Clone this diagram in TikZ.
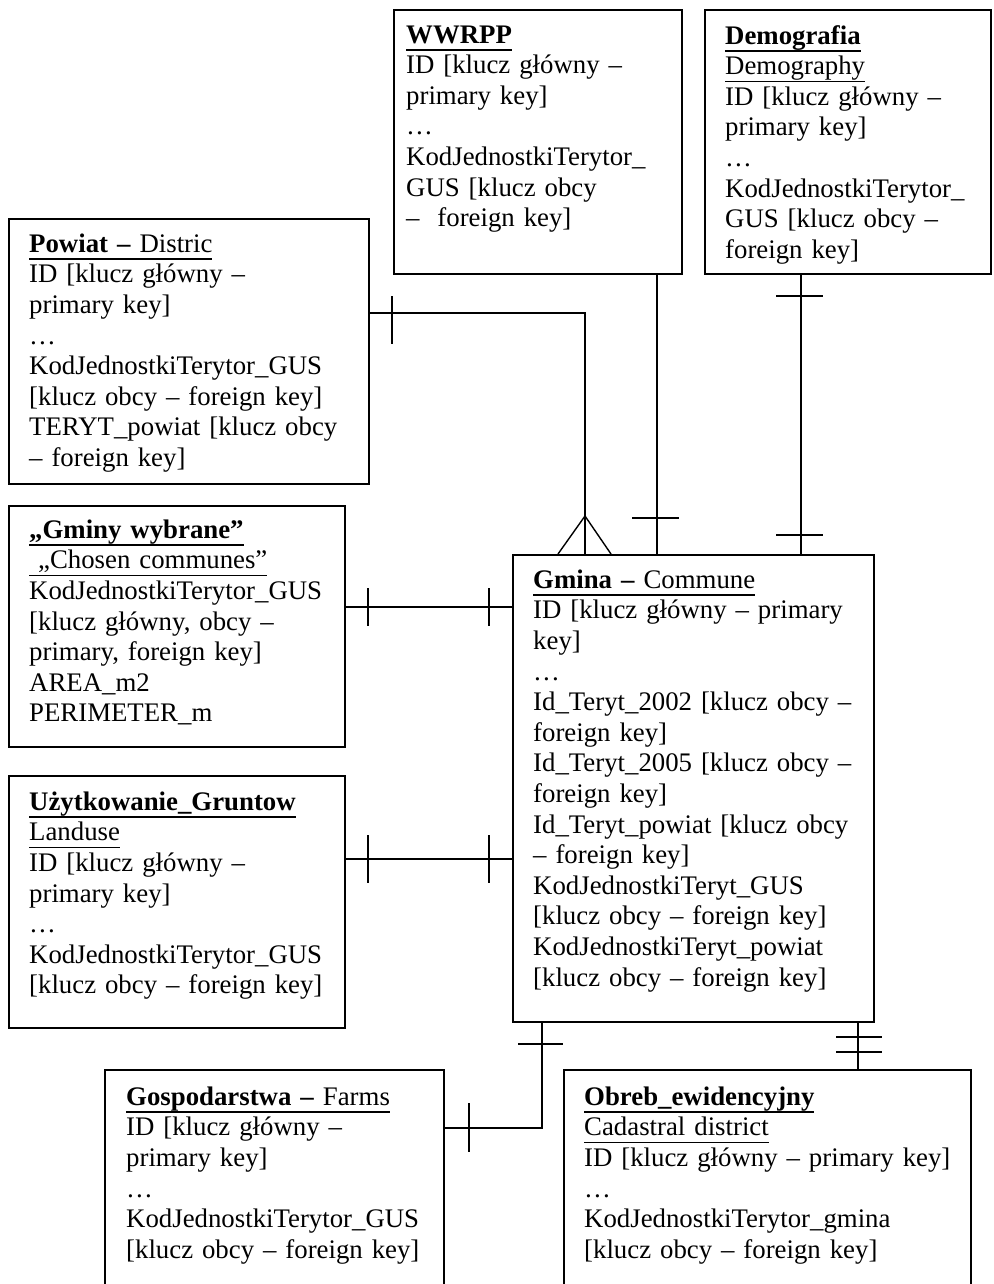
\documentclass[tikz,border=0pt]{standalone}
\usepackage{fontspec}
\setmainfont{Liberation Serif}
\setlength{\parindent}{0pt}
\newsavebox{\ulbox}
\newcommand{\ulin}[1]{\leavevmode\sbox{\ulbox}{#1}\rlap{\rule[-7.5pt]{\wd\ulbox}{1.5pt}}\usebox{\ulbox}}
\newcommand{\bodyfont}{\fontsize{26.8}{30.6}\selectfont}
\newcommand{\fl}{\rule{0pt}{24pt}}
\newcommand{\jline}[1]{\makebox[\hsize][s]{#1}}
\tikzset{
  box/.style={draw, line width=1.6pt, inner sep=0pt, anchor=north west},
  txt/.style={anchor=north west, inner sep=0pt, text width=#1, align=left, font=\bodyfont},
  lnk/.style={line width=1.4pt},
}
\begin{document}
\begin{tikzpicture}[x=1pt,y=-1pt]
\clip (0,0) rectangle (993,1284);
\fill[white] (0,0) rectangle (993,1284);

% boxes
\node[box, minimum width=288pt, minimum height=264pt] (wwrpp) at (393,9) {};
\node[box, minimum width=286pt, minimum height=264pt] (demo) at (704,9) {};
\node[box, minimum width=360pt, minimum height=265pt] (powiat) at (8,218) {};
\node[box, minimum width=336pt, minimum height=241pt] (gminy) at (8,505) {};
\node[box, minimum width=336pt, minimum height=252pt] (uzyt) at (8,775) {};
\node[box, minimum width=361pt, minimum height=467pt] (gmina) at (512,554) {};
\node[box, minimum width=339pt, minimum height=240pt] (gosp) at (104,1069) {};
\node[box, minimum width=407pt, minimum height=240pt] (obreb) at (563,1069) {};

% texts
\node[txt=274pt] (wwrppT) at (406,19) {\fl\ulin{\textbf{WWRPP}}\\
ID [klucz główny –\\
primary key]\\
…\\
KodJednostkiTerytor\_\\
GUS [klucz obcy\\
– \ foreign key]};

\node[txt=262pt] (demoT) at (725,20) {\fl\ulin{\textbf{Demografia}}\\
\ulin{Demography}\\
ID [klucz główny –\\
primary key]\\
…\\
KodJednostkiTerytor\_\\
GUS [klucz obcy –\\
foreign key]};

\node[txt=320pt] (powiatT) at (29,228) {\fl\ulin{\textbf{Powiat –} Distric}\\
ID [klucz główny –\\
primary key]\\
…\\
KodJednostkiTerytor\_GUS\\
{[}klucz obcy – foreign key]\\
\jline{TERYT\_powiat [klucz obcy}\\
– foreign key]};

\node[txt=312pt] (gminyT) at (29,514) {\fl\ulin{\textbf{„Gminy wybrane”}}\\
\ulin{\ „Chosen communes”}\\
KodJednostkiTerytor\_GUS\\
{[}klucz główny, obcy –\\
primary, foreign key]\\
AREA\_m2\\
PERIMETER\_m};

\node[txt=312pt] (uzytT) at (29,786) {\fl\ulin{\textbf{Użytkowanie\_Gruntow}}\\
\ulin{Landuse}\\
ID [klucz główny –\\
primary key]\\
…\\
KodJednostkiTerytor\_GUS\\
{[}klucz obcy – foreign key]};

\node[txt=319pt] (gminaT) at (533,564) {\fl\ulin{\textbf{Gmina –} Commune}\\
\jline{ID [klucz główny – primary}\\
key]\\
…\\
\jline{Id\_Teryt\_2002 [klucz obcy –}\\
foreign key]\\
\jline{Id\_Teryt\_2005 [klucz obcy –}\\
foreign key]\\
\jline{Id\_Teryt\_powiat [klucz obcy}\\
– foreign key]\\
KodJednostkiTeryt\_GUS\\
{[}klucz obcy – foreign key]\\
KodJednostkiTeryt\_powiat\\
{[}klucz obcy – foreign key]};

\node[txt=312pt] (gospT) at (126,1081) {\fl\ulin{\textbf{Gospodarstwa –} Farms}\\
ID [klucz główny –\\
primary key]\\
…\\
KodJednostkiTerytor\_GUS\\
{[}klucz obcy – foreign key]};

\node[txt=380pt] (obrebT) at (584,1081) {\fl\ulin{\textbf{Obreb\_ewidencyjny}}\\
\ulin{Cadastral district}\\
ID [klucz główny – primary key]\\
…\\
KodJednostkiTerytor\_gmina\\
{[}klucz obcy – foreign key]};

% helper coordinates
\coordinate (pgX) at (585,0); \coordinate (pgY) at (0,313);
\coordinate (wwX) at (657,0);
\coordinate (dmX) at (801,0);
\coordinate (gwY) at (0,607);
\coordinate (ugY) at (0,859);
\coordinate (gsX) at (542,0); \coordinate (gsY) at (0,1128);
\coordinate (obX) at (858,0);

% Powiat - Gmina
\draw[lnk] (powiat.east |- pgY) -| (gmina.north -| pgX);
\draw[lnk] (392,296) -- (392,344);
\draw[lnk] (558,554) -- (585,516) -- (611,554);

% WWRPP - Gmina
\draw[lnk] (wwrpp.south -| wwX) -- (gmina.north -| wwX);
\draw[lnk] (632,518) -- (679,518);

% Demografia - Gmina
\draw[lnk] (demo.south -| dmX) -- (gmina.north -| dmX);
\draw[lnk] (776,296) -- (823,296);
\draw[lnk] (776,535) -- (823,535);

% Gminy wybrane - Gmina
\draw[lnk] (gminy.east |- gwY) -- (gmina.west |- gwY);
\draw[lnk] (368,588) -- (368,626);
\draw[lnk] (489,588) -- (489,626);

% Uzytkowanie - Gmina
\draw[lnk] (uzyt.east |- ugY) -- (gmina.west |- ugY);
\draw[lnk] (368,835) -- (368,883);
\draw[lnk] (489,835) -- (489,883);

% Gmina - Gospodarstwa
\draw[lnk] (gmina.south -| gsX) |- (gosp.east |- gsY);
\draw[lnk] (518,1044) -- (563,1044);
\draw[lnk] (469,1103) -- (469,1152);

% Gmina - Obreb
\draw[lnk] (gmina.south -| obX) -- (obreb.north -| obX);
\draw[lnk] (836,1037) -- (882,1037);
\draw[lnk] (836,1052) -- (882,1052);
\end{tikzpicture}
\end{document}
